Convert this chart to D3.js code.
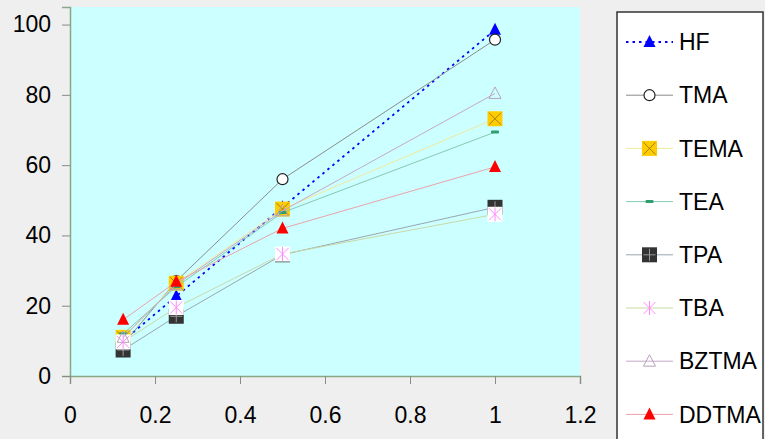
<!DOCTYPE html>
<html>
<head>
<meta charset="utf-8">
<script src="https://cdn.jsdelivr.net/npm/d3@7"></script>
<style>
  html, body { margin: 0; padding: 0; background: #efefef; }
  svg { display: block; }
  text { font-family: "Liberation Sans", Arial, sans-serif; }
</style>
</head>
<body>
<svg id="chart" width="765" height="439"></svg>
<script>
// Sample fractions on the x axis
const xValues = [0.125, 0.25, 0.5, 1];

// Series values (percent)
const hf    = [10, 22.7, 48, 98.5];
const tma   = [9, 27, 56, 95.7];
const tema  = [11, 26.4, 47.5, 73.2];
const tea   = [12, 25.4, 46.5, 69.4];
const tpa   = [7.4, 17, 34.5, 48];
const tba   = [9.7, 19.5, 34.7, 46];
const bztma = [11, 26, 47, 80.4];
const ddtma = [16, 26.8, 42, 59.5];

const seriesNames = ["HF", "TMA", "TEMA", "TEA", "TPA", "TBA", "BZTMA", "DDTMA"];
const seriesValues = [hf, tma, tema, tea, tpa, tba, bztma, ddtma];

// Axis ticks
const xTicks = [0, 0.2, 0.4, 0.6, 0.8, 1, 1.2];
const yTicks = [0, 20, 40, 60, 80, 100];

// Line and marker styling per series
const styles = {
  HF:    { line: "#0000ff", width: 1.8, dash: "2.5,4", marker: "triFill", fill: "#0000ff" },
  TMA:   { line: "#8c8c8c", width: 1,   dash: null,  marker: "circle" },
  TEMA:  { line: "#f2e99a", width: 1,   dash: null,  marker: "squareX" },
  TEA:   { line: "#86c9b4", width: 1,   dash: null,  marker: "dash" },
  TPA:   { line: "#9aa6b0", width: 1,   dash: null,  marker: "squarePlus" },
  TBA:   { line: "#c9d9a6", width: 1,   dash: null,  marker: "star" },
  BZTMA: { line: "#c6a9c8", width: 1,   dash: null,  marker: "triOpen" },
  DDTMA: { line: "#eba3a8", width: 1,   dash: null,  marker: "triFill", fill: "#ff0000" }
};

const svg = d3.select("#chart");
const plot = { left: 70, right: 580, top: 7, bottom: 376 };

const x = d3.scaleLinear().domain([0, 1.2]).range([plot.left, plot.right]);
const y = d3.scaleLinear().domain([0, 105]).range([plot.bottom, plot.top]);

// Plot area
svg.append("rect")
  .attr("x", plot.left).attr("y", plot.top)
  .attr("width", plot.right - plot.left).attr("height", plot.bottom - plot.top)
  .attr("fill", "#ccffff");

// Axes
const yAxis = svg.append("g")
  .attr("transform", `translate(${plot.left},0)`)
  .call(d3.axisLeft(y).tickValues(yTicks).tickSize(8).tickPadding(11).tickFormat(d3.format("d")));
const xAxis = svg.append("g")
  .attr("transform", `translate(0,${plot.bottom})`)
  .call(d3.axisBottom(x).tickValues(xTicks).tickSize(8).tickPadding(23).tickFormat(d => d3.format("~g")(d)));

[yAxis, xAxis].forEach(g => {
  g.select(".domain").attr("stroke", "#86a886").attr("stroke-width", 1.5);
  g.selectAll(".tick line").attr("stroke", "#8a8a8a");
  g.selectAll(".tick text").attr("fill", "#000").style("font-size", "23px")
    .style("font-family", "'Liberation Sans', Arial, sans-serif");
});
xAxis.selectAll(".tick text").attr("dy", "0.71em");

// Marker drawing
function drawMarker(g, type, cx, cy, st, inLegend) {
  const m = g.append("g").attr("transform", `translate(${cx},${cy})`);
  switch (type) {
    case "triFill":
      m.append("path").attr("d", "M0,-7L6,5L-6,5Z").attr("fill", st.fill);
      break;
    case "triOpen":
      m.append("path").attr("d", "M0,-6.5L6,5L-6,5Z").attr("fill", "none")
        .attr("stroke", "#b9a3bd").attr("stroke-width", 1);
      break;
    case "circle":
      m.append("circle").attr("r", 5.5).attr("fill", "#fff").attr("stroke", "#222").attr("stroke-width", 1.2);
      break;
    case "squareX":
      m.append("rect").attr("x", -7.5).attr("y", -7.5).attr("width", 15).attr("height", 15).attr("fill", "#ffcc00");
      m.append("path").attr("d", "M-6,-6L6,6M6,-6L-6,6").attr("stroke", "#8a6a10").attr("stroke-width", 0.8);
      break;
    case "dash":
      m.append("rect").attr("x", -4).attr("y", -1.5).attr("width", 8).attr("height", 3).attr("rx", 1).attr("fill", "#2f9e6e");
      break;
    case "squarePlus":
      m.append("rect").attr("x", -7.5).attr("y", -7.5).attr("width", 15).attr("height", 15).attr("fill", "#333");
      m.append("path").attr("d", "M0,-6L0,6M-6,0L6,0").attr("stroke", "#999").attr("stroke-width", 1);
      break;
    case "star":
      if (!inLegend) {
        m.append("rect").attr("x", -7.5).attr("y", -7.5).attr("width", 15).attr("height", 15).attr("fill", "#fff");
      }
      m.append("path").attr("d", "M-6,-6L6,6M6,-6L-6,6M0,-7L0,7").attr("stroke", "#ff88ff").attr("stroke-width", 1);
      break;
  }
}

// Series: line, then its markers
const line = d3.line().x(d => x(d[0])).y(d => y(d[1]));
seriesNames.forEach((name, i) => {
  const st = styles[name];
  const pts = xValues.map((xv, j) => [xv, seriesValues[i][j]]);
  const g = svg.append("g");
  g.append("path").attr("d", line(pts)).attr("fill", "none")
    .attr("stroke", st.line).attr("stroke-width", st.width)
    .attr("stroke-dasharray", st.dash);
  pts.forEach(p => drawMarker(g, st.marker, x(p[0]), y(p[1]), st, false));
});

// Legend
const legend = svg.append("g");
legend.append("rect").attr("x", 617).attr("y", 12).attr("width", 146).attr("height", 440)
  .attr("fill", "#fff").attr("stroke", "#333").attr("stroke-width", 1.5);
seriesNames.forEach((name, i) => {
  const st = styles[name];
  const cy = 42 + i * 53.2;
  legend.append("line").attr("x1", 626).attr("x2", 673).attr("y1", cy).attr("y2", cy)
    .attr("stroke", st.line).attr("stroke-width", st.width).attr("stroke-dasharray", st.dash);
  drawMarker(legend, st.marker, 649.5, cy, st, true);
  legend.append("text").attr("x", 679).attr("y", cy).attr("dy", "0.36em")
    .style("font-size", "23px").attr("fill", "#000").text(name);
});
</script>
</body>
</html>
